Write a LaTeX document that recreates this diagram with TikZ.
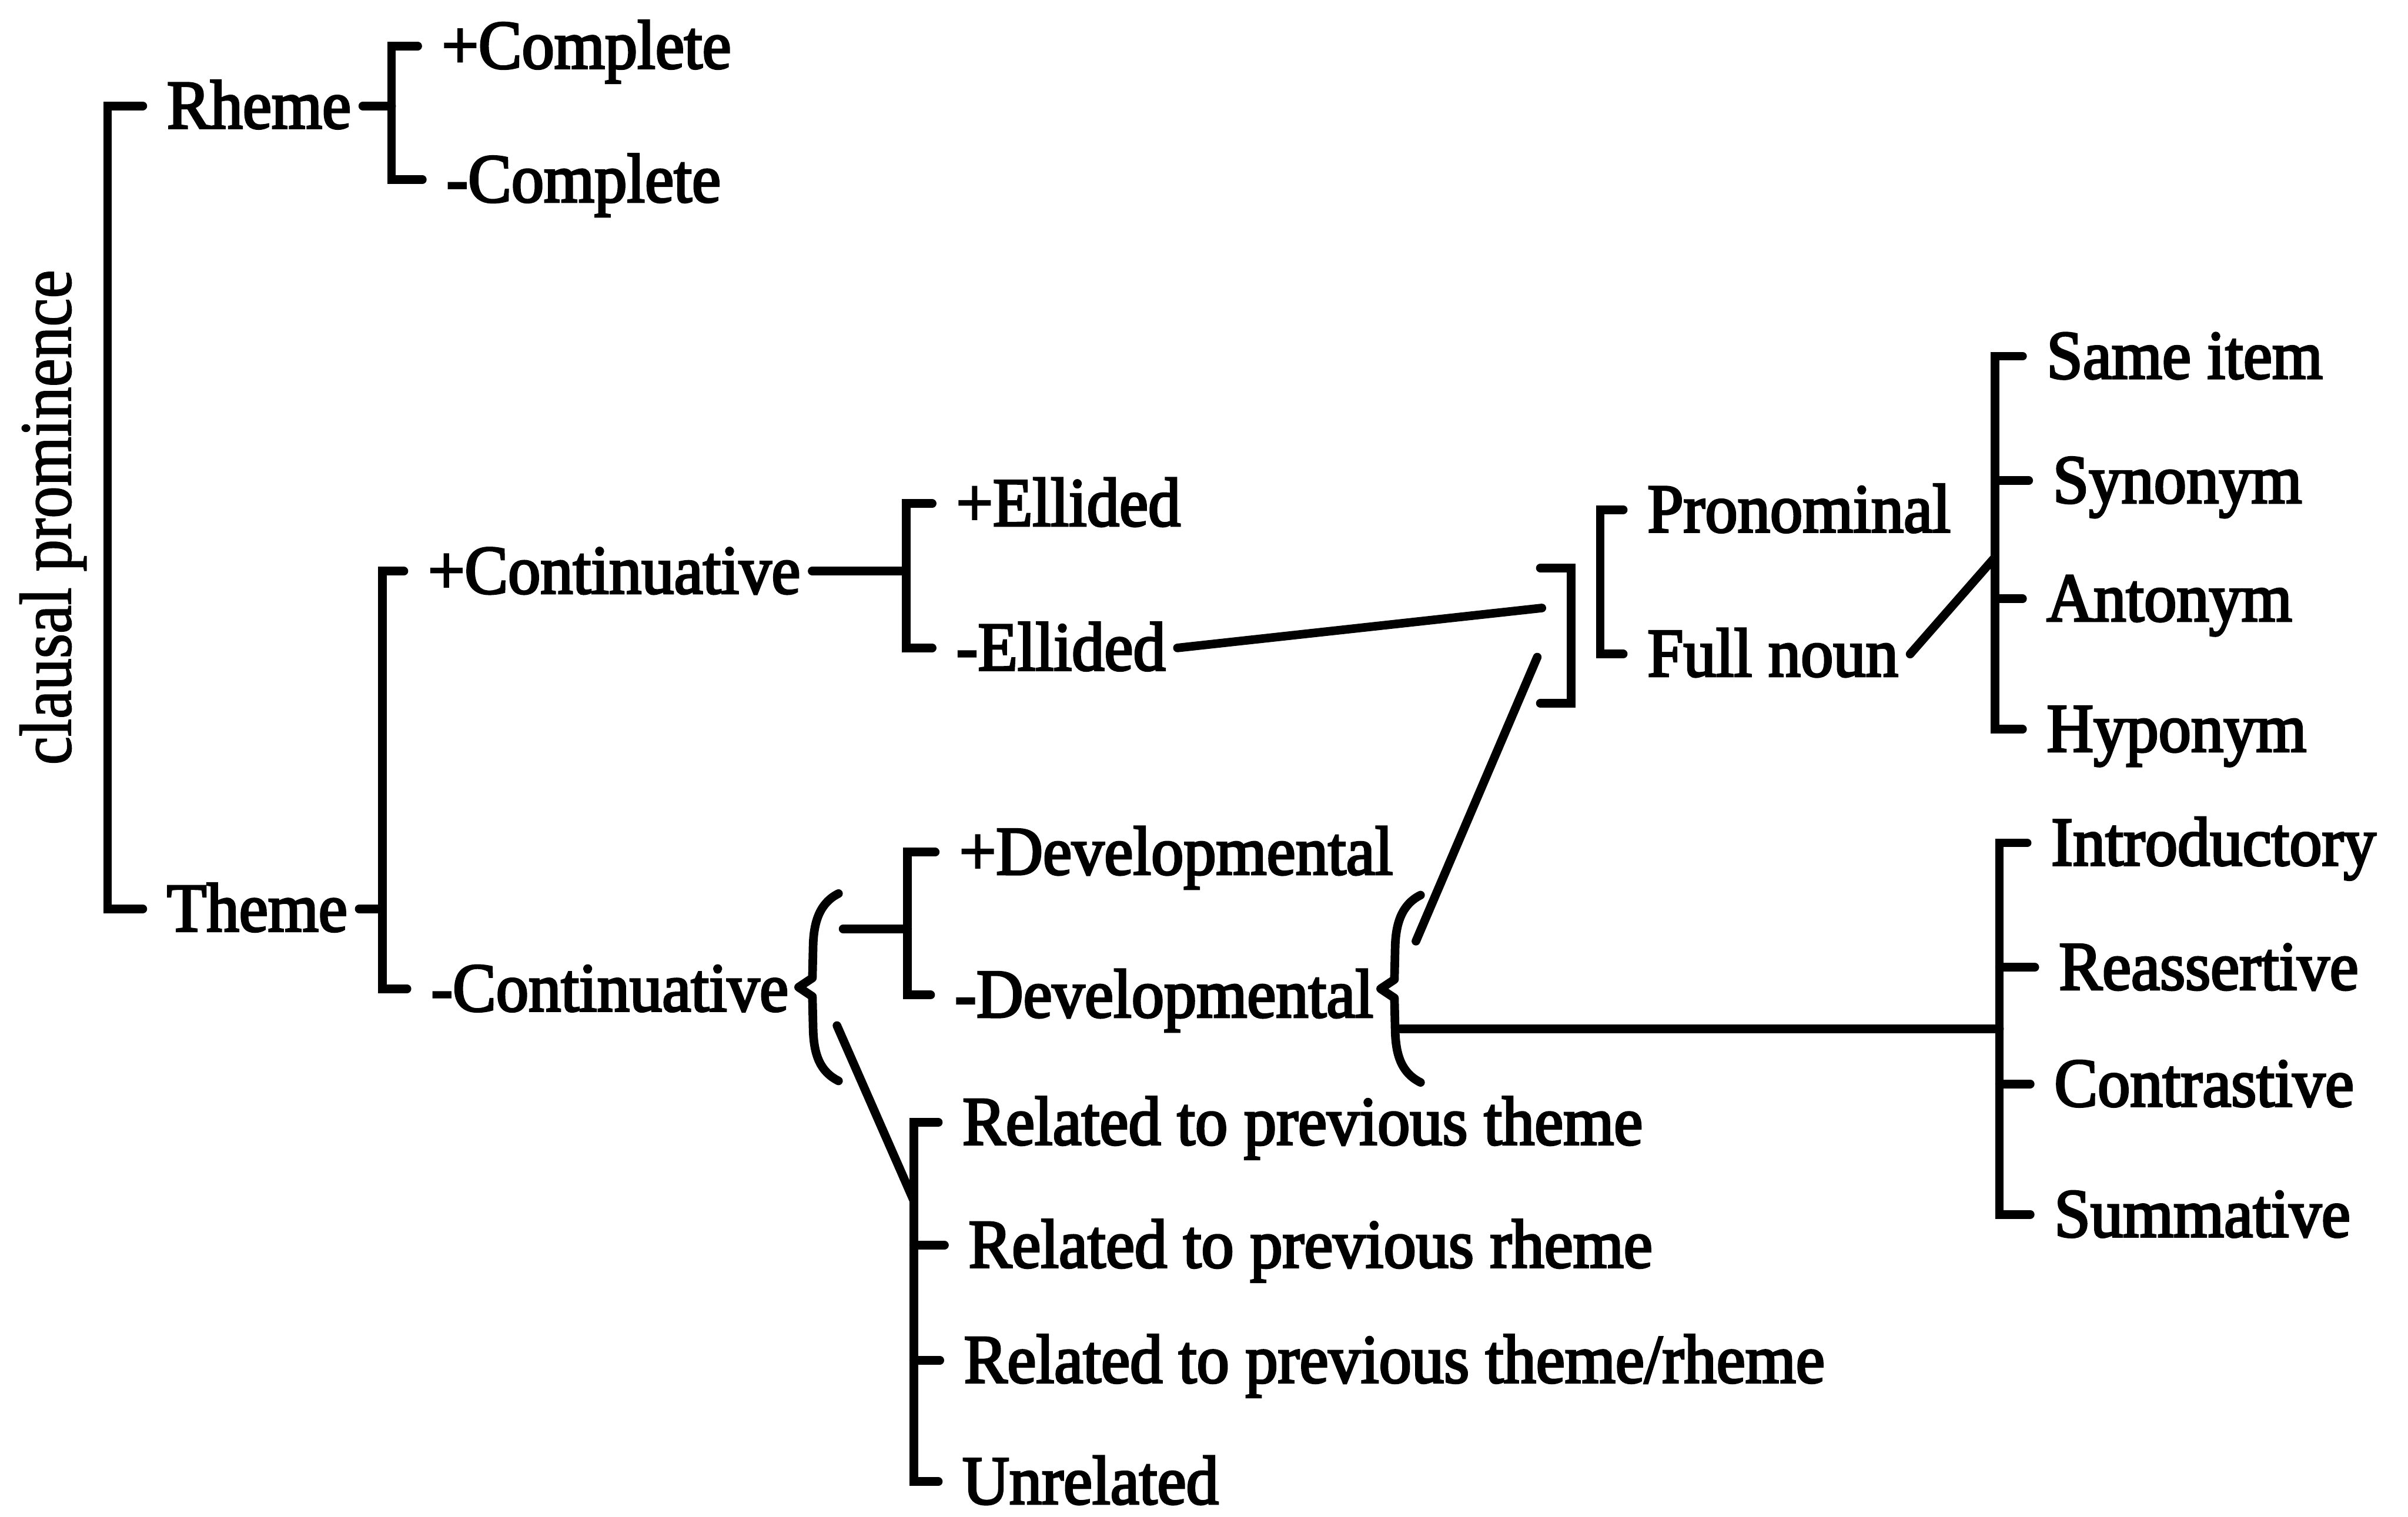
\documentclass[tikz,border=0pt]{standalone}
\usepackage{fontspec}
\setmainfont{Liberation Serif}
\newfontfamily\labelfont{Liberation Serif}[FakeStretch=0.94,FakeBold=3]
\newfontfamily\sidefont{Liberation Serif}[FakeStretch=0.87,FakeBold=1.5]
\usetikzlibrary{calc}

\begin{document}
\begin{tikzpicture}[x=0.01cm,y=-0.01cm,
  lbl/.style={anchor=west,inner sep=0pt,text height=0.29cm,text depth=0pt,
    font=\labelfont\fontsize{12.8pt}{15pt}\selectfont},
  ln/.style={line width=1.6pt,line cap=round,line join=miter},
  crv/.style={line width=1.6pt,line cap=round,line join=round},
  curlyfork/.pic={
    \draw[crv] (26,-61) .. controls (14,-55) and (10,-43) .. (9.5,-28)
      -- (9,-6) -- (0,0) -- (9,6) -- (9.5,28)
      .. controls (10,44) and (14,55) .. (26,61);
  }]
\useasboundingbox (0,0) rectangle (1568,988);

% axis label
\node[inner sep=0pt,rotate=90,anchor=base,
  font=\sidefont\fontsize{13.6pt}{16pt}\selectfont] (axis) at (46,337) {clausal prominence};

% labels
\node[lbl] (rheme) at (108,69) {Rheme};
\node[lbl] (pcomp) at (287,30) {+Complete};
\node[lbl] (mcomp) at (290,117) {-Complete};
\node[lbl] (theme) at (108,592) {Theme};
\node[lbl] (pcont) at (278,372) {+Continuative};
\node[lbl] (mcont) at (280,644) {-Continuative};
\node[lbl] (pell) at (622,328) {+Ellided};
\node[lbl] (mell) at (622,422) {-Ellided};
\node[lbl] (pdev) at (624,555) {+Developmental};
\node[lbl] (mdev) at (621,648) {-Developmental};
\node[lbl] (rthm) at (626,731) {Related to previous theme};
\node[lbl] (rrhm) at (630,811) {Related to previous rheme};
\node[lbl] (rboth) at (627,886) {Related to previous theme/rheme};
\node[lbl] (unrel) at (626,965) {Unrelated};
\node[lbl] (pron) at (1072,332) {Pronominal};
\node[lbl] (fulln) at (1072,426) {Full noun};
\node[lbl] (same) at (1332,232) {Same item};
\node[lbl] (syn) at (1336,313) {Synonym};
\node[lbl] (ant) at (1332,390) {Antonym};
\node[lbl] (hyp) at (1332,475) {Hyponym};
\node[lbl] (intro) at (1335,549) {Introductory};
\node[lbl] (reas) at (1340,630) {Reassertive};
\node[lbl] (contr) at (1337,706) {Contrastive};
\node[lbl] (summ) at (1337,791) {Summative};

% tick ends in front of each label, stub starts behind some labels
\foreach \n in {rheme,pcomp,mcomp,theme,pcont,mcont,pell,mell,pdev,mdev,
  rthm,rrhm,rboth,unrel,pron,fulln,same,syn,ant,hyp,intro,reas,contr,summ}
  \coordinate (\n-t) at ($(\n.west)+(-15,0)$);
\foreach \n in {rheme,theme,pcont,mell,fulln}
  \coordinate (\n-s) at ($(\n.east)+(7,0)$);

% bracket spines and junctions
\coordinate (rootJ) at (70,330);
\coordinate (rhemeJ) at (255,69);
\coordinate (themeJ) at (249,592);
\coordinate (ellJ) at (590,372);
\coordinate (devJ) at (591,605);
\coordinate (relJ) at (595,782);
\coordinate (nounJ) at (1042,380);
\coordinate (lexJ) at (1299,363);
\coordinate (posJ) at (1302,670);
\coordinate (forkA) at (520,643);
\coordinate (forkB) at (899,644);
\coordinate (gateT) at (1023,370);
\coordinate (gateB) at (1023,458);
\coordinate (gateIn1) at (1004,396);
\coordinate (gateIn2) at (1001,428);

% system network
\draw[ln] (rheme-t) -| (rootJ) |- (theme-t);

\draw[ln] (pcomp-t) -| (rhemeJ) |- (mcomp-t);
\draw[ln] (rheme-s) -- (rhemeJ);

\draw[ln] (pcont-t) -| (themeJ) |- (mcont-t);
\draw[ln] (theme-s) -- (themeJ);

\draw[ln] (pell-t) -| (ellJ) |- (mell-t);
\draw[ln] (pcont-s) -- (ellJ);

\pic at (forkA) {curlyfork};
\draw[ln] (pdev-t) -| (devJ) |- (mdev-t);
\draw[ln] ($(forkA)+(29,-38)$) -- (devJ);

\draw[ln] (rthm-t) -| (relJ) |- (unrel-t);
\draw[ln] (relJ |- rrhm.west) -- (rrhm-t);
\draw[ln] (relJ |- rboth.west) -- (rboth-t);
\draw[ln] ($(forkA)+(25,25)$) -- (relJ);

% conjunction gate into nominal type
\draw[ln] (mell-s) -- (gateIn1);
\draw[ln] ($(gateT)+(-20,0)$) -- (gateT) -- (gateB) -- ($(gateB)+(-20,0)$);
\pic at (forkB) {curlyfork};
\draw[ln] (gateIn2) -- ($(forkB)+(23,-31)$);

\draw[ln] (pron-t) -| (nounJ) |- (fulln-t);

\draw[ln] (fulln-s) -- (lexJ);
\draw[ln] (same-t) -| (lexJ) |- (hyp-t);
\draw[ln] (lexJ |- syn.west) -- (syn-t);
\draw[ln] (lexJ |- ant.west) -- (ant-t);

\draw[ln] ($(forkB)+(13,26)$) -- (posJ);
\draw[ln] (intro-t) -| (posJ) |- (summ-t);
\draw[ln] (posJ |- reas.west) -- (reas-t);
\draw[ln] (posJ |- contr.west) -- (contr-t);
\end{tikzpicture}
\end{document}
